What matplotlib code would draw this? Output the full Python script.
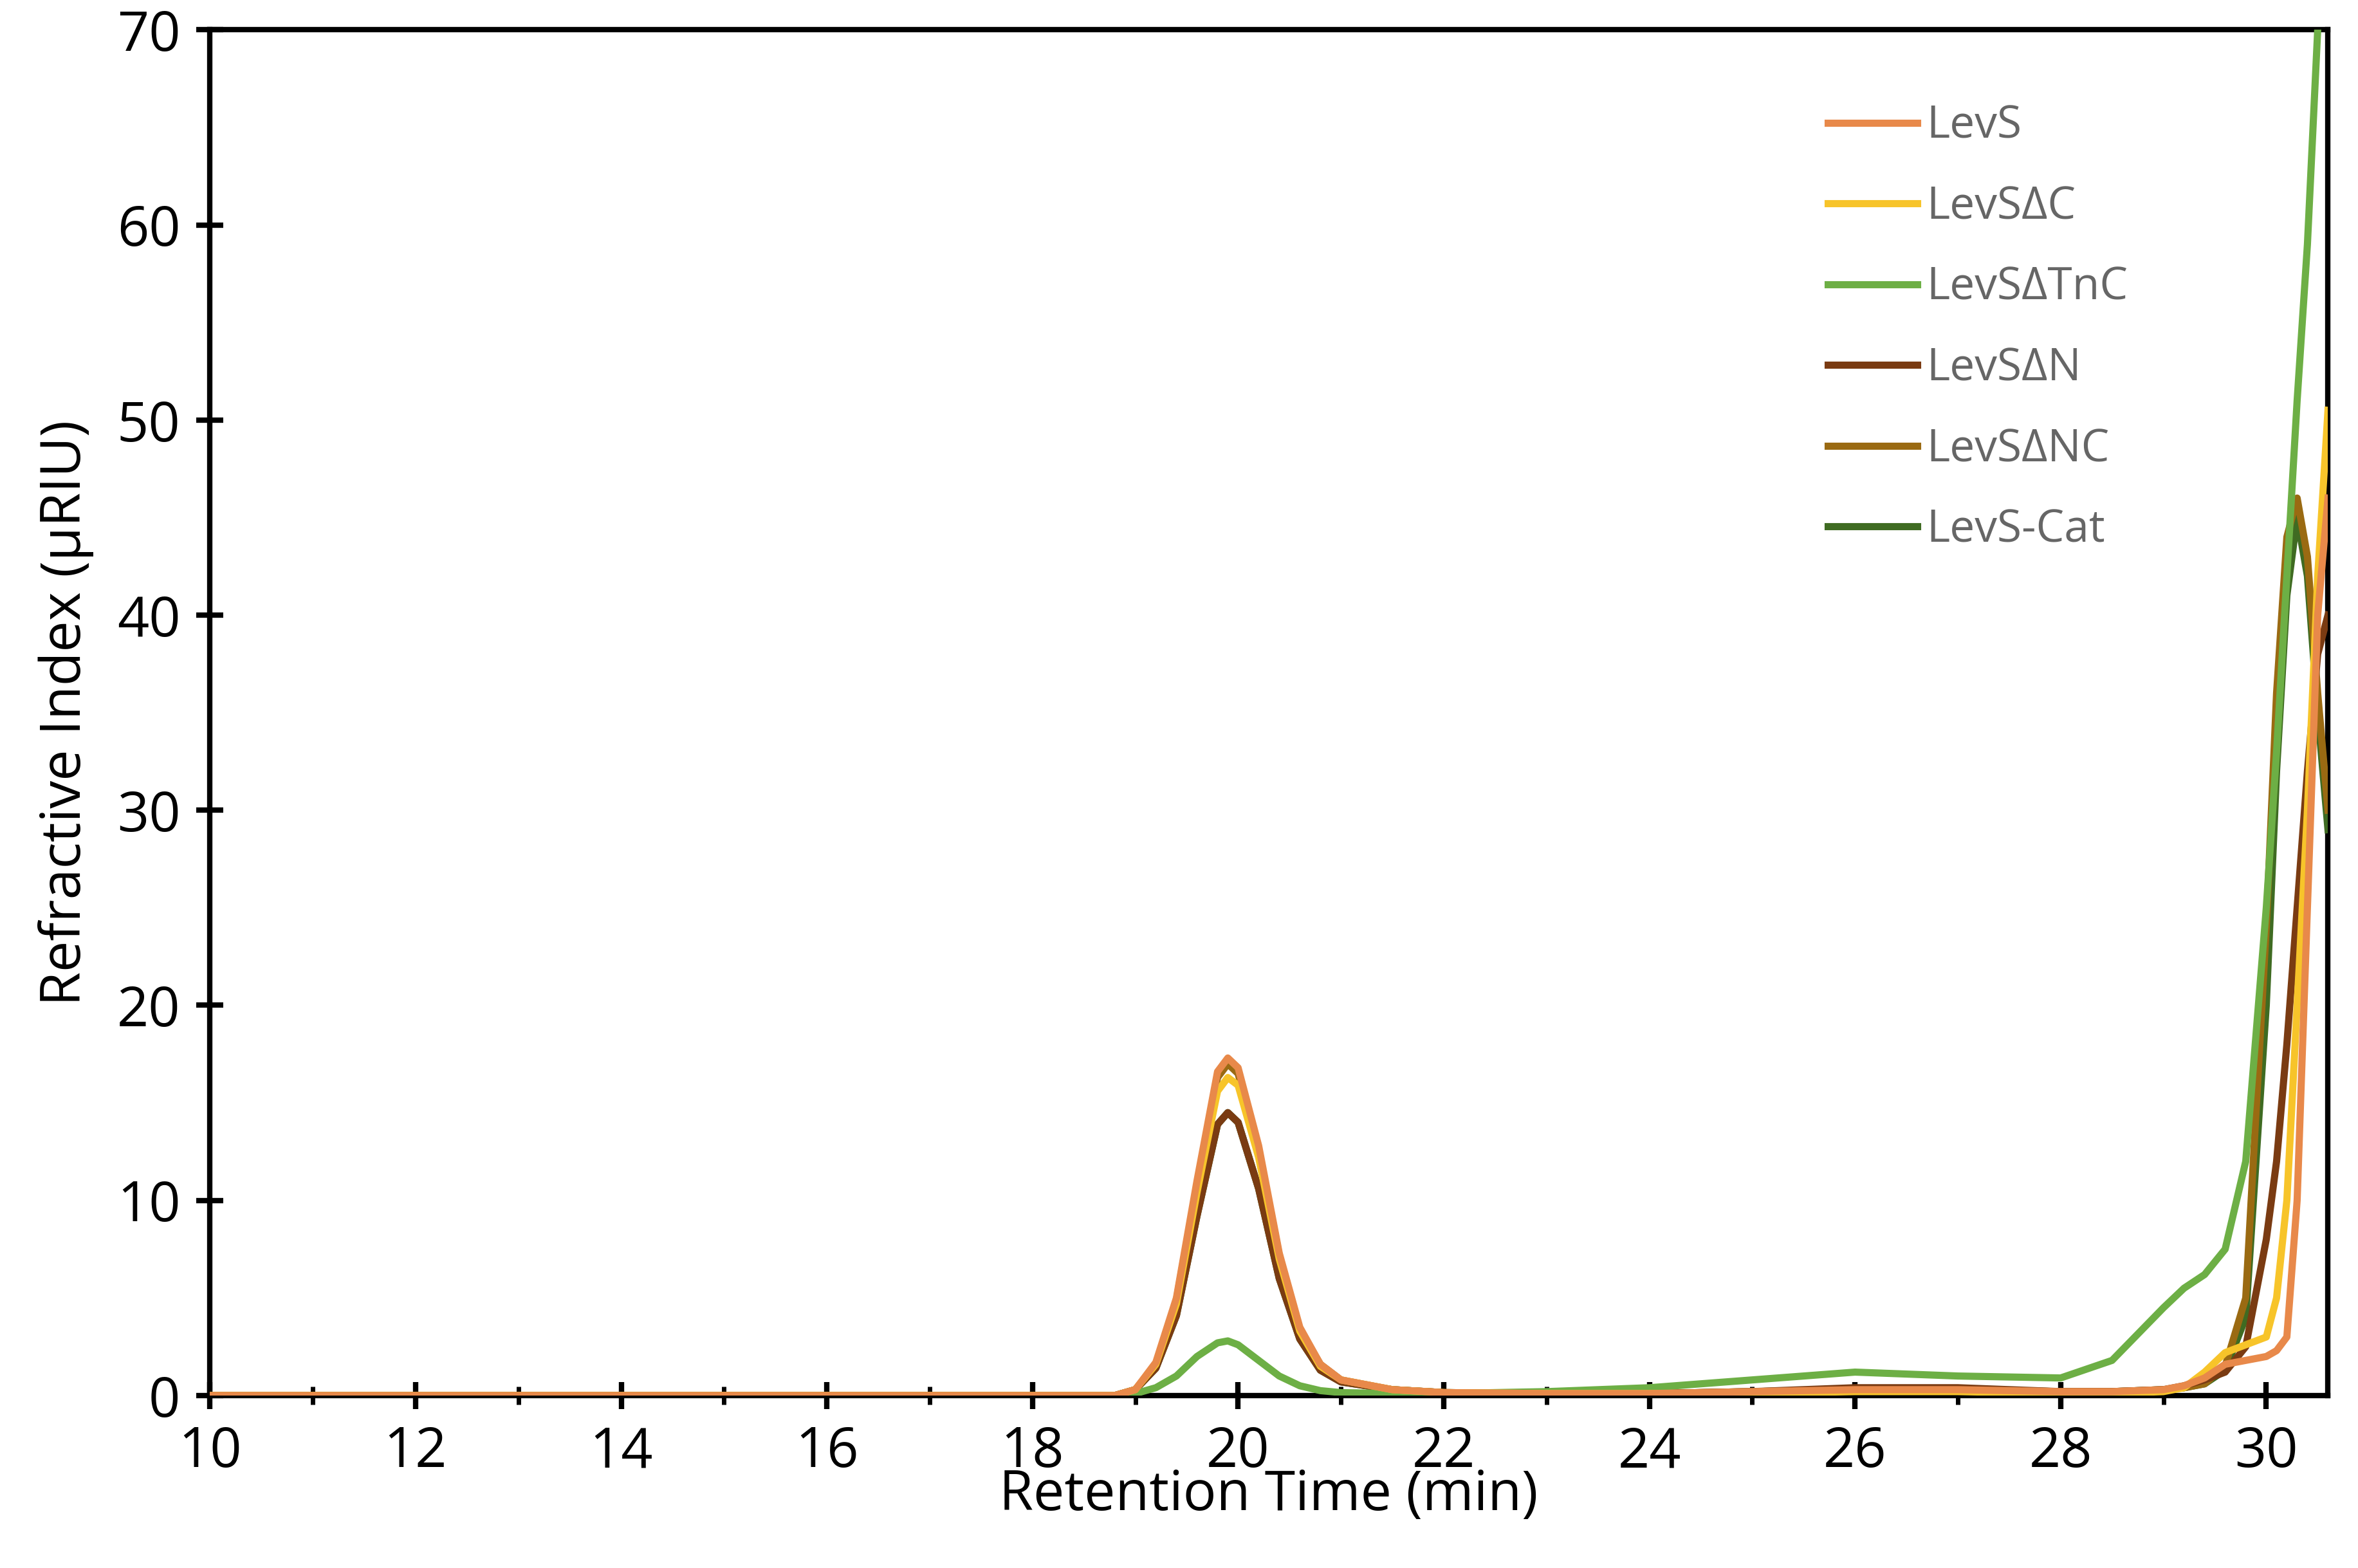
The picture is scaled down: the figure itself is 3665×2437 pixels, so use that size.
import numpy as np
import matplotlib.pyplot as plt
from matplotlib.ticker import MultipleLocator

# retention time grid (min)
t = [10, 18.8, 19.0, 19.2, 19.4, 19.6, 19.8, 19.9, 20.0, 20.2, 20.4, 20.6, 20.8, 21.0, 21.5, 22.0,
     23.0, 24.0, 25.0, 26.0, 27.0, 28.0, 28.5, 29.0, 29.2, 29.4, 29.6, 29.8, 30.0, 30.1, 30.2, 30.3,
     30.4, 30.5, 30.6]

levs =    [0, 0, 0.3, 1.7, 5.0, 11.0, 16.6, 17.3, 16.8, 12.8, 7.3, 3.5, 1.6, 0.8, 0.3, 0.15,
           0.1, 0.1, 0.2, 0.3, 0.3, 0.2, 0.2, 0.3, 0.5, 0.9, 1.6, 1.8, 2.0, 2.3, 3.0, 10.0,
           25.0, 40.0, 46.0]
levs_dc = [0, 0, 0.3, 1.6, 4.7, 10.4, 15.6, 16.3, 15.9, 12.2, 7.0, 3.3, 1.5, 0.8, 0.3, 0.15,
           0.1, 0.1, 0.1, 0.2, 0.2, 0.1, 0.1, 0.2, 0.4, 1.2, 2.2, 2.6, 3.0, 5.0, 10.0, 20.0,
           30.0, 42.0, 50.5]
levs_dtnc = [0, 0, 0.1, 0.4, 1.0, 2.0, 2.7, 2.8, 2.6, 1.8, 1.0, 0.5, 0.25, 0.15, 0.1, 0.1,
             0.2, 0.4, 0.8, 1.2, 1.0, 0.9, 1.8, 4.5, 5.5, 6.2, 7.5, 12.0, 25.0, 33.0, 42.0, 51.0,
             59.0, 70.0, 75.0]
levs_dn = [0, 0, 0.3, 1.4, 4.1, 9.2, 13.9, 14.5, 14.0, 10.6, 6.0, 2.9, 1.3, 0.7, 0.3, 0.15,
           0.1, 0.1, 0.2, 0.4, 0.4, 0.2, 0.2, 0.3, 0.5, 0.8, 1.2, 2.5, 8.0, 12.0, 18.0, 25.0,
           32.0, 38.0, 40.0]
levs_dnc = [0, 0, 0.3, 1.6, 4.9, 10.8, 16.3, 17.0, 16.5, 12.6, 7.2, 3.4, 1.6, 0.8, 0.3, 0.15,
            0.1, 0.1, 0.2, 0.3, 0.3, 0.2, 0.2, 0.3, 0.4, 0.6, 1.5, 5.0, 24.0, 36.0, 44.0, 46.0,
            43.0, 36.0, 30.0]
levs_cat = [0, 0, 0.3, 1.4, 4.1, 9.2, 13.9, 14.5, 14.0, 10.6, 6.0, 2.9, 1.3, 0.7, 0.3, 0.15,
            0.1, 0.1, 0.2, 0.3, 0.3, 0.2, 0.2, 0.3, 0.4, 0.6, 1.3, 4.0, 20.0, 32.0, 41.0, 45.0,
            42.0, 35.0, 29.0]

names = ['LevS', 'LevSΔC', 'LevSΔTnC', 'LevSΔN', 'LevSΔNC', 'LevS-Cat']
colors = ['#E8894A', '#F7C42A', '#6DAF45', '#7A3B12', '#9A6A12', '#3F6B22']
series = [levs, levs_dc, levs_dtnc, levs_dn, levs_dnc, levs_cat]

plt.rcParams['font.family'] = ['Open Sans', 'DejaVu Sans']
fig = plt.figure(figsize=(36.66, 24.37), dpi=100)
ax = fig.add_axes([0.089, 0.110, 0.898, 0.871])

# draw order so the visible lines end up on top
for i in [5, 4, 3, 2, 1, 0]:
    ax.plot(t, series[i], color=colors[i], lw=8, label=names[i], zorder=3 + (5 - i),
            solid_joinstyle='round')

ax.set_xlim(10, 30.6)
ax.set_ylim(0, 70)
ax.xaxis.set_major_locator(MultipleLocator(2))
ax.xaxis.set_minor_locator(MultipleLocator(1))
ax.yaxis.set_major_locator(MultipleLocator(10))
ax.tick_params(which='major', direction='inout', length=30, width=6, labelsize=62, pad=18)
ax.tick_params(which='minor', direction='inout', length=20, width=5)
for s in ax.spines.values():
    s.set_linewidth(6)

ax.set_xlabel('Retention Time (min)', fontsize=62, labelpad=-14)
ax.set_ylabel('Refractive Index (µRIU)', fontsize=62, labelpad=26)

h, l = ax.get_legend_handles_labels()
order = [l.index(n) for n in names]
leg = ax.legend([h[k] for k in order], [l[k] for k in order], loc='upper left',
                bbox_to_anchor=(0.745, 0.975), frameon=False, fontsize=50,
                handlelength=2.0, labelspacing=0.8, handletextpad=0.2)
for txt in leg.get_texts():
    txt.set_color('#666666')

fig.savefig('out.png', dpi=100)
